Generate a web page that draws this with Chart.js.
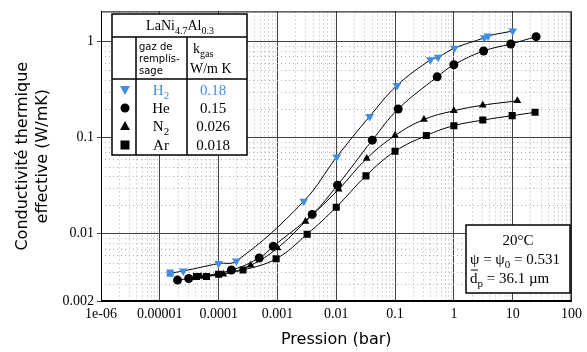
<!DOCTYPE html>
<html>
<head>
<meta charset="utf-8">
<script src="https://cdn.jsdelivr.net/npm/chart.js@4/dist/chart.umd.min.js"></script>
<style>
  html, body { margin: 0; padding: 0; background: #fff; }
</style>
</head>
<body>
<canvas id="chart" width="587" height="352"></canvas>
<script>
// pressure (bar) / conductivity (W/mK)
const h2P = [1.5e-5, 2.5e-5, 1e-4, 2e-4, 2.8e-3, 0.0102, 0.037, 0.108, 0.40, 0.54, 1.02, 3.3, 3.8, 10];
const h2K = [0.0039, 0.0041, 0.0049, 0.0052, 0.0218, 0.063, 0.166, 0.348, 0.643, 0.685, 0.85, 1.09, 1.14, 1.28];
const heP = [2e-5, 3.1e-5, 1.65e-4, 4.9e-4, 8.5e-4, 3.9e-3, 0.0105, 0.041, 0.113, 0.52, 1.0, 3.2, 9.3, 25];
const heK = [0.0033, 0.00343, 0.0042, 0.0056, 0.0074, 0.0159, 0.032, 0.094, 0.198, 0.428, 0.571, 0.795, 0.94, 1.12];
const n2P = [5e-5, 1.2e-4, 3.5e-4, 1e-3, 3e-3, 0.011, 0.033, 0.1, 0.31, 1.0, 3.1, 12];
const n2K = [0.0036, 0.0038, 0.0047, 0.0071, 0.0134, 0.029, 0.0606, 0.105, 0.154, 0.19, 0.217, 0.241];
const arP = [4.2e-5, 6.2e-5, 1e-4, 2.6e-4, 9.5e-4, 3.2e-3, 0.01, 0.032, 0.1, 0.34, 1.0, 3.1, 9.8, 24];
const arK = [0.0036, 0.0036, 0.0038, 0.0042, 0.0055, 0.0099, 0.0189, 0.040, 0.072, 0.105, 0.133, 0.152, 0.169, 0.183];

const xTicks = [1e-6, 1e-5, 1e-4, 1e-3, 0.01, 0.1, 1, 10, 100];
const xLabels = ["1e-06", "0.00001", "0.0001", "0.001", "0.01", "0.1", "1", "10", "100"];
const yTicks = [0.002, 0.01, 0.1, 1];
const yLabels = ["0.002", "0.01", "0.1", "1"];

const gasNames = ["H", "He", "N", "Ar"];
const gasSubs = ["2", "", "2", ""];
const gasK = ["0.18", "0.15", "0.026", "0.018"];

const blue = "#3f8de6";
const serif = "'Liberation Serif', 'Times New Roman', serif";
const sans = "'DejaVu Sans', sans-serif";

function pts(xs, ys) {
  return xs.map((x, i) => ({ x: x, y: ys[i] }));
}

const h2Style = h2P.map((v, i) => (i == 0 ? "rect" : "triangle"));
const h2Rot = h2P.map((v, i) => (i == 0 ? 0 : 180));

// dotted minor grid, drawn under the data
const minorGrid = {
  id: "minorGrid",
  beforeDatasetsDraw(chart) {
    const c = chart.ctx, a = chart.chartArea;
    const sx = chart.scales.x, sy = chart.scales.y;
    c.save();
    c.strokeStyle = "#b4b4b4";
    c.lineWidth = 1;
    c.setLineDash([1, 3]);
    for (let e = -6; e < 2; e++) {
      for (let k = 2; k <= 9; k++) {
        const px = Math.round(sx.getPixelForValue(k * Math.pow(10, e))) + 0.5;
        c.beginPath(); c.moveTo(px, a.top); c.lineTo(px, a.bottom); c.stroke();
      }
    }
    for (let e = -3; e < 1; e++) {
      for (let k = 2; k <= 9; k++) {
        const v = k * Math.pow(10, e);
        if (v <= 0.002 || v >= 2) continue;
        const py = Math.round(sy.getPixelForValue(v)) + 0.5;
        c.beginPath(); c.moveTo(a.left, py); c.lineTo(a.right, py); c.stroke();
      }
    }
    c.restore();
  }
};

function richText(c, parts, x, y, align) {
  // parts: [text, size, dy]
  let w = 0;
  parts.forEach(p => { c.font = p[1] + "px " + serif; w += c.measureText(p[0]).width; });
  let cx = align == "center" ? x - w / 2 : x;
  c.textAlign = "left";
  parts.forEach(p => {
    c.font = p[1] + "px " + serif;
    c.fillText(p[0], cx, y + (p[2] || 0));
    cx += c.measureText(p[0]).width;
  });
}

function marker(c, kind, x, y, color) {
  c.fillStyle = color;
  c.beginPath();
  if (kind == "down") { c.moveTo(x - 5, y - 4); c.lineTo(x + 5, y - 4); c.lineTo(x, y + 5); }
  else if (kind == "up") { c.moveTo(x - 5, y + 4); c.lineTo(x + 5, y + 4); c.lineTo(x, y - 5); }
  else if (kind == "circle") { c.arc(x, y, 4.5, 0, Math.PI * 2); }
  else { c.rect(x - 4.5, y - 4.5, 9, 9); }
  c.fill();
}

const boxes = {
  id: "boxes",
  afterDraw(chart) {
    const c = chart.ctx, a = chart.chartArea;
    c.save();
    // frame
    c.strokeStyle = "#000";
    c.lineWidth = 1;
    c.strokeRect(a.left + 0.5, a.top + 0.5, a.right - a.left - 1, a.bottom - a.top - 1);

    // legend table
    const L = 112, R = 247, T = 14, B = 155;
    c.fillStyle = "#fff";
    c.fillRect(L, T, R - L, B - T);
    c.lineWidth = 1.5;
    c.strokeRect(L, T, R - L, B - T);
    c.beginPath();
    c.moveTo(L, 37); c.lineTo(R, 37);
    c.moveTo(L, 79); c.lineTo(R, 79);
    c.moveTo(136, 37); c.lineTo(136, B);
    c.moveTo(187, 37); c.lineTo(187, B);
    c.stroke();

    c.fillStyle = "#000";
    c.textBaseline = "alphabetic";
    richText(c, [["LaNi", 14], ["4.7", 10, 4], ["Al", 14], ["0.3", 10, 4]], 180, 30, "center");
    c.font = "10px " + sans;
    c.textAlign = "left";
    c.fillText("gaz de", 139, 50);
    c.fillText("remplis-", 139, 62);
    c.fillText("sage", 139, 74);
    richText(c, [["k", 14], ["gas", 10, 4]], 193, 53, "left");
    c.font = "14px " + serif;
    c.fillText("W/m K", 190, 73);

    const rows = [91, 109, 127, 146];
    const kinds = ["down", "circle", "up", "square"];
    rows.forEach((ry, i) => {
      const col = i == 0 ? blue : "#000";
      marker(c, kinds[i], 125, ry - 1, col);
      c.fillStyle = col;
      const parts = [[gasNames[i], 15]];
      if (gasSubs[i]) parts.push([gasSubs[i], 11, 4]);
      richText(c, parts, 161, ry + 4, "center");
      c.font = "15px " + serif;
      c.textAlign = "center";
      c.fillText(gasK[i], 213, ry + 4);
    });

    // conditions box
    const bl = 466, br = 570, bt = 225, bb = 293;
    c.fillStyle = "#fff";
    c.fillRect(bl, bt, br - bl, bb - bt);
    c.lineWidth = 1.5;
    c.strokeRect(bl, bt, br - bl, bb - bt);
    c.fillStyle = "#000";
    c.font = "15px " + serif;
    c.textAlign = "center";
    c.fillText("20°C", 518, 245);
    richText(c, [["ψ = ψ", 15], ["0", 11, 4], [" = 0.531", 15]], 470, 264, "left");
    richText(c, [["d", 15], ["p", 11, 4], [" = 36.1 µm", 15]], 470, 283, "left");
    c.beginPath(); c.moveTo(471, 270); c.lineTo(478, 270); c.lineWidth = 1; c.stroke();
    c.restore();
  }
};

const ctx = document.getElementById("chart").getContext("2d");

const common = {
  showLine: true,
  borderColor: "#000",
  borderWidth: 1,
  tension: 0.4,
  pointRadius: 4.5,
  pointBorderWidth: 0,
  fill: false
};

new Chart(ctx, {
  type: "scatter",
  data: {
    datasets: [
      Object.assign({}, common, { label: "H2", data: pts(h2P, h2K), pointStyle: h2Style, pointRotation: h2Rot,
        pointBackgroundColor: blue, pointBorderColor: blue, pointRadius: 5 }),
      Object.assign({}, common, { label: "He", data: pts(heP, heK), pointStyle: "circle",
        pointBackgroundColor: "#000", pointBorderColor: "#000" }),
      Object.assign({}, common, { label: "N2", data: pts(n2P, n2K), pointStyle: "triangle",
        pointBackgroundColor: "#000", pointBorderColor: "#000" }),
      Object.assign({}, common, { label: "Ar", data: pts(arP, arK), pointStyle: "rect", pointRadius: 5,
        pointBackgroundColor: "#000", pointBorderColor: "#000" })
    ]
  },
  options: {
    responsive: false,
    animation: false,
    layout: { padding: { top: 8, right: 8, left: 0, bottom: 0 } },
    plugins: { legend: { display: false }, tooltip: { enabled: false } },
    scales: {
      x: {
        type: "logarithmic",
        min: 1e-6,
        max: 100,
        afterBuildTicks: (s) => { s.ticks = xTicks.map(v => ({ value: v })); },
        afterFit: (s) => { s.height = 51; },
        grid: { color: "#444", lineWidth: 1, drawTicks: false },
        border: { display: true, color: "#000" },
        ticks: {
          autoSkip: false,
          maxRotation: 0,
          padding: 5,
          color: "#000",
          font: { family: serif, size: 14 },
          callback: (v, i) => xLabels[i]
        },
        title: {
          display: true,
          text: "Pression (bar)",
          color: "#000",
          font: { family: sans, size: 16 },
          padding: { top: 0, bottom: 3 }
        }
      },
      y: {
        type: "logarithmic",
        min: 0.002,
        max: 2.05,
        afterBuildTicks: (s) => { s.ticks = yTicks.map(v => ({ value: v })); },
        afterFit: (s) => { s.width = 101; },
        grid: { color: "#444", lineWidth: 1, drawTicks: true, tickLength: 4 },
        border: { display: true, color: "#000" },
        ticks: {
          autoSkip: false,
          padding: 3,
          color: "#000",
          font: { family: serif, size: 14 },
          callback: (v, i) => yLabels[i]
        },
        title: {
          display: true,
          text: ["Conductivité thermique", "effective (W/mK)"],
          color: "#000",
          font: { family: sans, size: 16, lineHeight: 1.25 },
          padding: { top: 13, bottom: 0 }
        }
      }
    }
  },
  plugins: [minorGrid, boxes]
});
</script>
</body>
</html>
